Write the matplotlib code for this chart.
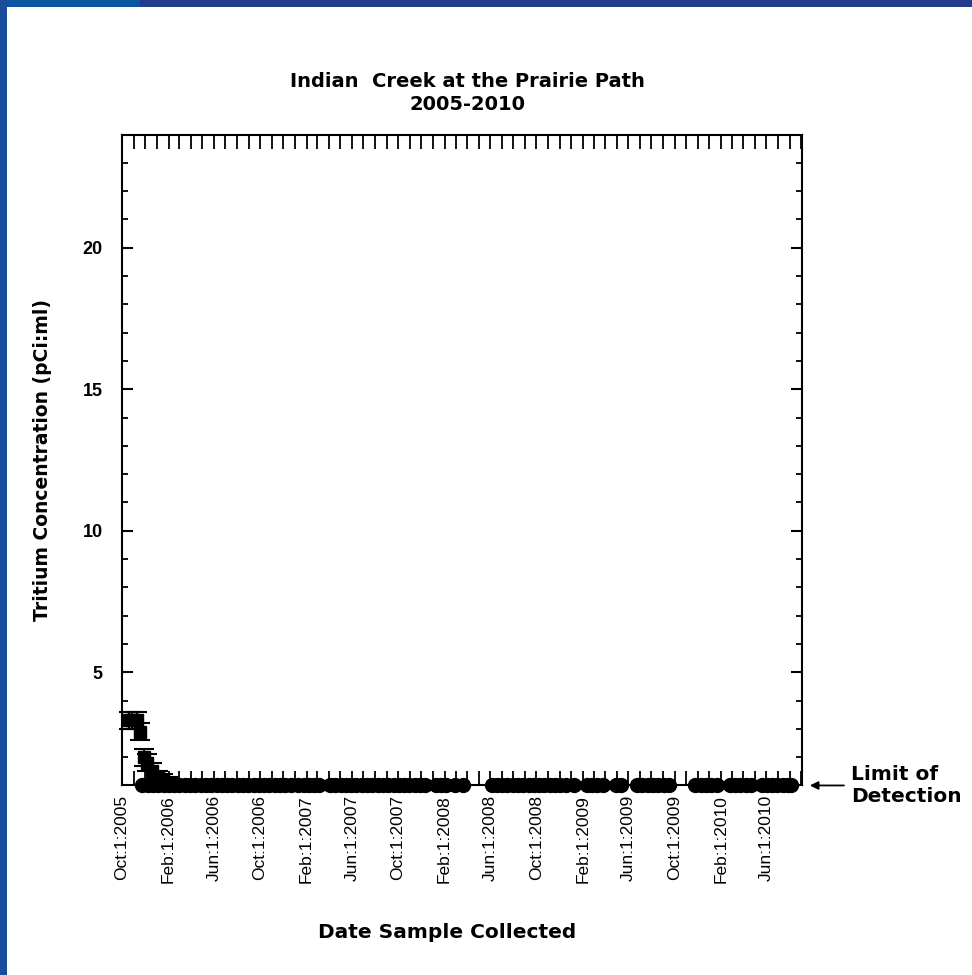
import matplotlib
matplotlib.use("Agg")
import matplotlib.pyplot as plt
import matplotlib.dates as mdates
from matplotlib.patches import Rectangle
import pandas as pd

plt.rcParams['font.family'] = ['Liberation Sans', 'DejaVu Sans']
WIDE = ['DejaVu Sans']

# samples above the detection limit (pCi/ml) with counting error
det_dates = ['2005-10-20', '2005-10-28', '2005-11-10', '2005-11-17',
             '2005-11-29', '2005-12-06', '2005-12-20', '2006-01-03',
             '2006-01-17', '2006-01-31']
det_values = [3.3, 3.3, 3.3, 2.9, 2.0, 1.8, 1.5, 1.3, 1.2, 1.1]
det_errors = [0.3, 0.3, 0.3, 0.3, 0.3, 0.3, 0.3, 0.2, 0.2, 0.2]

# samples below the limit of detection
lod_dates = [
    '2005-11-24', '2005-12-08', '2005-12-22',
    '2006-01-05', '2006-01-19', '2006-02-02', '2006-02-16', '2006-03-02',
    '2006-03-16', '2006-03-30', '2006-04-13', '2006-04-27', '2006-05-11',
    '2006-05-25', '2006-06-08', '2006-06-22', '2006-07-06', '2006-07-20',
    '2006-08-03', '2006-08-17', '2006-08-31', '2006-09-14', '2006-09-28',
    '2006-10-12', '2006-10-26', '2006-11-09', '2006-11-23', '2006-12-07',
    '2006-12-21', '2007-01-10', '2007-01-24', '2007-02-07', '2007-02-21',
    '2007-03-07', '2007-04-04', '2007-04-18', '2007-05-02', '2007-05-16',
    '2007-05-30', '2007-06-13', '2007-06-27', '2007-07-11', '2007-07-25',
    '2007-08-08', '2007-08-22', '2007-09-05', '2007-09-19', '2007-10-03',
    '2007-10-17', '2007-10-31', '2007-11-14', '2007-11-28', '2007-12-12',
    '2008-01-09', '2008-01-23', '2008-02-06', '2008-02-28', '2008-03-20',
    '2008-06-05', '2008-06-18', '2008-07-02', '2008-07-16', '2008-07-30',
    '2008-08-13', '2008-08-27', '2008-09-10', '2008-09-24', '2008-10-08',
    '2008-10-22', '2008-11-05', '2008-11-19', '2008-12-03', '2008-12-17',
    '2009-01-07', '2009-02-11', '2009-02-25', '2009-03-11', '2009-03-25',
    '2009-04-29', '2009-05-13', '2009-06-24', '2009-07-08', '2009-07-22',
    '2009-08-05', '2009-08-19', '2009-09-02', '2009-09-16', '2009-11-25',
    '2009-12-09', '2009-12-23', '2010-01-06', '2010-01-20', '2010-02-24',
    '2010-03-10', '2010-03-24', '2010-04-07', '2010-04-21', '2010-05-19',
    '2010-06-02', '2010-06-16', '2010-06-30', '2010-07-14', '2010-07-28',
    '2010-08-05',
]
lod_value = 1.0

det_x = pd.to_datetime(det_dates)
lod_x = pd.to_datetime(lod_dates)

fig = plt.figure(figsize=(9.72, 9.75), dpi=100)
fig.patch.set_facecolor('white')

# slide frame: blue bars along the top and left edge
fig.patches.append(Rectangle((0, 1 - 7 / 975), 1, 7 / 975, transform=fig.transFigure,
                             facecolor='#243c8e', edgecolor='none'))
fig.patches.append(Rectangle((0, 1 - 7 / 975), 140 / 972, 7 / 975, transform=fig.transFigure,
                             facecolor='#0a55a0', edgecolor='none'))
fig.patches.append(Rectangle((0, 0), 7 / 972, 1, transform=fig.transFigure,
                             facecolor='#1a4c9c', edgecolor='none'))

ax = fig.add_axes([0.1255, 0.1944, 0.6996, 0.6676])

ax.errorbar(det_x, det_values, yerr=det_errors, fmt='s', color='black',
            markersize=9, elinewidth=1.5, capsize=7, capthick=1.5, clip_on=False, zorder=3)
ax.plot(lod_x, [lod_value] * len(lod_x), 'o', color='black', markersize=10,
        clip_on=False, zorder=3)

ax.set_ylim(1, 24)
ax.set_xlim(pd.Timestamp('2005-10-01'), pd.Timestamp('2010-09-03'))

for s in ax.spines.values():
    s.set_linewidth(1.5)

ax.set_yticks([5, 10, 15, 20])
ax.set_yticks(range(1, 25), minor=True)
ax.tick_params(axis='y', which='major', direction='in', length=8, width=1.5,
               right=True, labelsize=13, pad=14)
ax.tick_params(axis='y', which='minor', direction='in', length=4, width=1.3, right=True)
for lbl in ax.get_yticklabels():
    lbl.set_fontweight('bold')

ax.xaxis.set_major_locator(mdates.MonthLocator(bymonth=[2, 6, 10]))
ax.xaxis.set_minor_locator(mdates.MonthLocator())
ax.xaxis.set_major_formatter(
    plt.FuncFormatter(lambda v, pos: (lambda d: f"{d:%b}:{d.day}:{d.year}")(mdates.num2date(v))))
ax.tick_params(axis='x', which='both', direction='in', length=10, width=1.3,
               top=True, labelsize=12.5, pad=7, labelrotation=90)

ax.set_ylabel('Tritium Concentration (pCi:ml)', fontsize=13.5, fontweight='bold',
              labelpad=22, family=WIDE)
fig.text(447 / 972, 1 - 933 / 975, 'Date Sample Collected', ha='center', va='center',
         fontsize=14.5, fontweight='bold', family=WIDE)
fig.text(467 / 972, 1 - 93 / 975, 'Indian  Creek at the Prairie Path\n2005-2010', ha='center',
         va='center', fontsize=14, fontweight='bold', linespacing=1.25, family=WIDE)

ax.annotate('', xy=(0.825 + 8 / 972, 0.1944), xycoords='figure fraction',
            xytext=(0.825 + 42 / 972, 0.1944),
            arrowprops=dict(arrowstyle='-|>', color='black', lw=1.3,
                            mutation_scale=12, shrinkA=0, shrinkB=0))
fig.text(851 / 972, 0.1944, 'Limit of\nDetection', ha='left', va='center',
         fontsize=14.5, fontweight='bold', linespacing=1.2, family=WIDE)

fig.savefig('out.png', dpi=100)
